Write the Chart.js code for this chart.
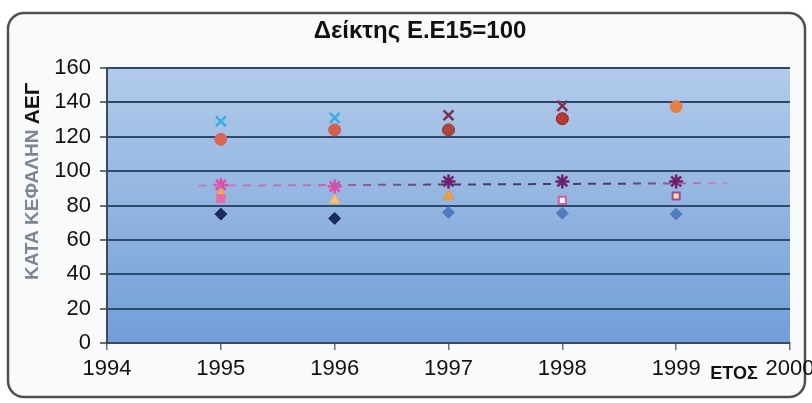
<!DOCTYPE html>
<html>
<head>
<meta charset="utf-8">
<script src="https://cdn.jsdelivr.net/npm/chart.js@4"></script>
<style>
  html, body { margin: 0; padding: 0; background: #ffffff; }
  #wrap { width: 812px; height: 403px; }
</style>
</head>
<body>
<div id="wrap"><canvas id="chart" width="812" height="403"></canvas></div>
<script>
// values (index EU15 = 100)
const years = [1995, 1996, 1997, 1998, 1999]
const diamondVals = [75, 72.5, 76, 75.5, 75]
const triangleVals = [87, 83, 85.5, null, null]
const squareVals = [84, null, null, 83, 85.5]
const starVals = [92, 91, 94, 94, 94]
const crossVals = [129, 131, 132.5, 138, null]
const circleVals = [118.5, 124, 124, 130.5, 137.5]
const avgYears = [1994.8, 1999.45]
const avgVals = [91.5, 93]
const yTicks = [0, 20, 40, 60, 80, 100, 120, 140, 160]
const xTicks = [1994, 1995, 1996, 1997, 1998, 1999, 2000]

const titleText = 'Δείκτης Ε.Ε15=100'
const yTitleGray = 'ΚΑΤΑ ΚΕΦΑΛΗΝ '
const yTitleBold = 'ΑΕΓ'
const xTitleText = 'ΕΤΟΣ'

const narrow = '"Liberation Sans Narrow", "Liberation Sans", Arial, sans-serif'
const sans = '"Liberation Sans", Arial, sans-serif'

function toPoints(xs, ys) {
    return xs.map((x, i) => ({ x: x, y: ys[i] })).filter(p => p.y !== null)
}

function pick(arr, vals) {
    return arr.filter((c, i) => vals[i] !== null)
}

// pink dashes at the ends, darker ones in the middle
function dashColor(context) {
    const a = context.chart.chartArea
    if (!a) return '#b8589a'
    const g = context.chart.ctx.createLinearGradient(a.left, 0, a.right, 0)
    g.addColorStop(0, '#d884c0')
    g.addColorStop(0.3, '#c070a8')
    g.addColorStop(0.5, '#4a3a66')
    g.addColorStop(0.75, '#4a3a66')
    g.addColorStop(0.9, '#d884c0')
    g.addColorStop(1, '#d884c0')
    return g
}

const frameAndText = {
    id: 'frameAndText',
    beforeDraw(chart) {
        const ctx = chart.ctx
        const a = chart.chartArea
        ctx.save()
        // outer rounded frame
        ctx.beginPath()
        ctx.roundRect(8, 13, 797, 384, 16)
        ctx.fillStyle = '#f8fafc'
        ctx.fill()
        ctx.lineWidth = 2.5
        ctx.strokeStyle = '#4d4f52'
        ctx.stroke()
        // plot area gradient
        const g = ctx.createLinearGradient(0, a.top, 0, a.bottom)
        g.addColorStop(0, '#b2cbea')
        g.addColorStop(1, '#729ed8')
        ctx.fillStyle = g
        ctx.fillRect(a.left, a.top, a.right - a.left, a.bottom - a.top)
        ctx.restore()
    },
    afterDraw(chart) {
        const ctx = chart.ctx
        ctx.save()
        ctx.fillStyle = '#111111'
        ctx.font = 'bold 24px ' + narrow
        ctx.textAlign = 'center'
        ctx.textBaseline = 'middle'
        ctx.fillText(titleText, 420, 31)

        ctx.font = 'bold 18px ' + sans
        ctx.fillText(xTitleText, 734, 374)

        // rotated y title, gray part then bold part
        ctx.translate(33, 280)
        ctx.rotate(-Math.PI / 2)
        ctx.textAlign = 'left'
        ctx.font = 'bold 19px ' + sans
        ctx.fillStyle = '#7d8696'
        ctx.fillText(yTitleGray, 0, 0)
        const w = ctx.measureText(yTitleGray).width
        ctx.font = 'bold 21px ' + sans
        ctx.fillStyle = '#111111'
        ctx.fillText(yTitleBold, w, 0)
        ctx.restore()
    }
}

window.addEventListener('load', (event) => {
    try {
        buildChart()
    } catch (e) {
        console.error(e)
    }
})

function buildChart() {
    const CHART = document.getElementById('chart')
    new Chart(CHART, {
        type: 'scatter',
        data: {
            datasets: [
                {
                    label: 'avg',
                    type: 'line',
                    data: toPoints(avgYears, avgVals),
                    borderColor: dashColor,
                    borderWidth: 2,
                    borderDash: [8, 7],
                    pointRadius: 0,
                    fill: false
                },
                {
                    label: 'diamond',
                    data: toPoints(years, diamondVals),
                    pointStyle: 'rectRot',
                    pointRadius: 6,
                    backgroundColor: pick(['#1b2b5c', '#1b2b5c', '#4f7dbf', '#4f7dbf', '#4f7dbf'], diamondVals),
                    borderColor: pick(['#1b2b5c', '#1b2b5c', '#4f7dbf', '#4f7dbf', '#4f7dbf'], diamondVals),
                    borderWidth: 1
                },
                {
                    label: 'square',
                    data: toPoints(years, squareVals),
                    pointStyle: 'rect',
                    pointRadius: 5,
                    backgroundColor: pick(['#e46fa6', null, null, '#ffffff', '#f2ec8a'], squareVals),
                    borderColor: pick(['#e46fa6', null, null, '#d35fa2', '#a646a8'], squareVals),
                    borderWidth: 2
                },
                {
                    label: 'triangle',
                    data: toPoints(years, triangleVals),
                    pointStyle: 'triangle',
                    pointRadius: 6,
                    backgroundColor: pick(['#f3b04a', '#f7c27a', '#f5a233', null, null], triangleVals),
                    borderColor: pick(['#f09040', '#f2b060', '#f39020', null, null], triangleVals),
                    borderWidth: 1
                },
                {
                    label: 'star',
                    data: toPoints(years, starVals),
                    pointStyle: 'star',
                    pointRadius: 7,
                    borderColor: pick(['#e04aa8', '#e04aa8', '#6e1e6a', '#6e1e6a', '#6e1e6a'], starVals),
                    backgroundColor: 'rgba(0,0,0,0)',
                    borderWidth: 2.5
                },
                {
                    label: 'cross',
                    data: toPoints(years, crossVals),
                    pointStyle: 'crossRot',
                    pointRadius: 7,
                    borderColor: pick(['#3aaae2', '#3aaae2', '#7c2f52', '#7c2f52', null], crossVals),
                    borderWidth: 2.5
                },
                {
                    label: 'circle',
                    data: toPoints(years, circleVals),
                    pointStyle: 'circle',
                    pointRadius: 6,
                    backgroundColor: pick(['#d96652', '#d2604e', '#b0463a', '#b8392e', '#e58045'], circleVals),
                    borderColor: pick(['#d96652', '#d2604e', '#8a3a36', '#8a2a28', '#e58045'], circleVals),
                    borderWidth: 1
                }
            ]
        },
        options: {
            responsive: false,
            animation: false,
            layout: { padding: { left: 0, right: 22, top: 68, bottom: 0 } },
            plugins: {
                legend: { display: false },
                tooltip: { enabled: false }
            },
            scales: {
                x: {
                    type: 'linear',
                    min: xTicks[0],
                    max: xTicks[xTicks.length - 1],
                    afterBuildTicks: (scale) => { scale.ticks = xTicks.map(v => ({ value: v })) },
                    afterFit: (scale) => {
                        scale.height = 60
                        scale.paddingLeft = 0
                        scale.paddingRight = 0
                    },
                    ticks: {
                        color: '#111111',
                        font: { family: narrow, size: 22 },
                        padding: 6,
                        maxRotation: 0,
                        callback: (v) => String(v)
                    },
                    grid: { drawOnChartArea: false, drawTicks: true, tickLength: 7, color: '#6b6f75', lineWidth: 1.5 },
                    border: { color: '#3b4a5e', width: 2 }
                },
                y: {
                    min: yTicks[0],
                    max: yTicks[yTicks.length - 1],
                    afterBuildTicks: (scale) => { scale.ticks = yTicks.map(v => ({ value: v })) },
                    afterFit: (scale) => { scale.width = 107 },
                    ticks: {
                        color: '#111111',
                        font: { family: narrow, size: 22 },
                        padding: 9
                    },
                    grid: {
                        color: (c) => c.tick && c.tick.value === 0 ? '#3b4a5e' : '#2b4a6e',
                        lineWidth: 2,
                        tickColor: '#6b6f75',
                        tickLength: 7
                    },
                    border: { color: '#3b4a5e', width: 2 }
                }
            }
        },
        plugins: [frameAndText]
    })
}
</script>
</body>
</html>
